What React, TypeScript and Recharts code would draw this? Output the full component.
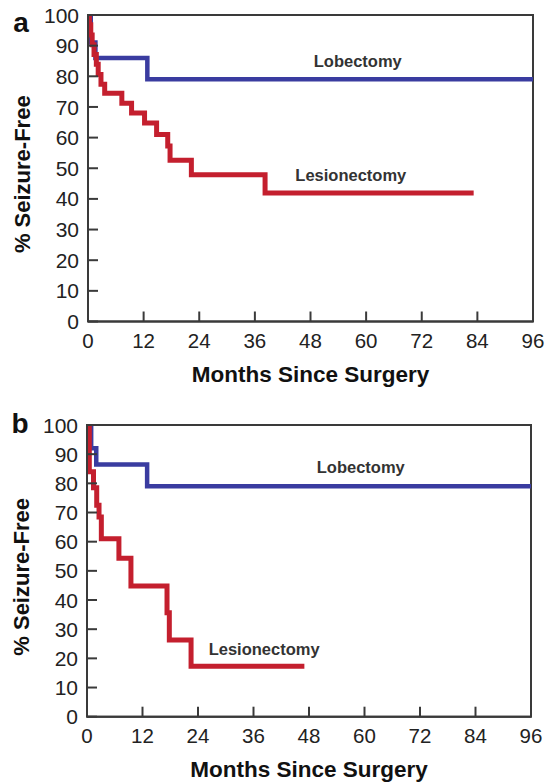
import React from 'react';
import { LineChart, Line, XAxis, YAxis, ReferenceArea, ReferenceDot } from 'recharts';

const FONT = "'Liberation Sans', Arial, Helvetica, sans-serif";
const AXIS = '#3a3a3a';
const BLUE = '#3a3ca0';
const RED = '#c41f2e';

const monthTicks = [0, 12, 24, 36, 48, 60, 72, 84, 96];
const pctTicks = [0, 10, 20, 30, 40, 50, 60, 70, 80, 90, 100];

// Panel a
const lobectomyA = [
  { month: 0, pct: 100 },
  { month: 0.6, pct: 91 },
  { month: 1.6, pct: 86 },
  { month: 12.8, pct: 79 },
  { month: 96, pct: 79 },
];
const lesionectomyA = [
  { month: 0, pct: 100 },
  { month: 0.3, pct: 96.8 },
  { month: 0.6, pct: 93.5 },
  { month: 0.9, pct: 90.3 },
  { month: 1.3, pct: 87.1 },
  { month: 1.8, pct: 83.9 },
  { month: 2.2, pct: 80.6 },
  { month: 2.8, pct: 77.4 },
  { month: 3.6, pct: 74.5 },
  { month: 7.3, pct: 71.2 },
  { month: 9.4, pct: 68 },
  { month: 12.2, pct: 64.8 },
  { month: 14.8, pct: 61 },
  { month: 17.2, pct: 57.3 },
  { month: 17.7, pct: 52.6 },
  { month: 22.3, pct: 47.9 },
  { month: 38.2, pct: 41.9 },
  { month: 83.2, pct: 41.9 },
];
const notesA = [
  { text: 'Lobectomy', month: 58.2, pct: 83.1 },
  { text: 'Lesionectomy', month: 56.7, pct: 45.9 },
];

// Panel b
const lobectomyB = [
  { month: 0, pct: 100 },
  { month: 0.9, pct: 92 },
  { month: 2, pct: 86.5 },
  { month: 13, pct: 79 },
  { month: 96, pct: 79 },
];
const lesionectomyB = [
  { month: 0, pct: 100 },
  { month: 0.5, pct: 84 },
  { month: 1.4, pct: 78.5 },
  { month: 2.1, pct: 72.5 },
  { month: 2.6, pct: 68.5 },
  { month: 3.1, pct: 61 },
  { month: 6.9, pct: 54.3 },
  { month: 9.5, pct: 44.8 },
  { month: 17.3, pct: 35.6 },
  { month: 17.8, pct: 26.3 },
  { month: 22.5, pct: 17.3 },
  { month: 47, pct: 17.3 },
];
const notesB = [
  { text: 'Lobectomy', month: 59.2, pct: 83.5 },
  { text: 'Lesionectomy', month: 38.3, pct: 21.1 },
];

const XTick = (props: any) => {
  const { x, y, payload } = props;
  return (
    <g>
      <line x1={x} y1={y} x2={x} y2={y - 10} stroke={AXIS} strokeWidth={2} />
      <text x={x} y={y + 26} textAnchor="middle" fontSize={20.5} fontFamily={FONT} fill="#222">
        {payload.value}
      </text>
    </g>
  );
};

const YTick = (props: any) => {
  const { x, y, payload } = props;
  return (
    <g>
      <line x1={x} y1={y} x2={x + 10} y2={y} stroke={AXIS} strokeWidth={2} />
      <text x={x - 9} y={y} dy="0.36em" textAnchor="end" fontSize={21} fontFamily={FONT} fill="#222">
        {payload.value}
      </text>
    </g>
  );
};

function Panel(props: any) {
  const { lob, les, notes, letter, letterY, margin } = props;
  return (
    <LineChart width={545} height={392} margin={margin}>
      <XAxis
        type="number"
        dataKey="month"
        domain={[0, 96]}
        ticks={monthTicks}
        interval={0}
        height={30}
        tickSize={0}
        tickMargin={0}
        tickLine={false}
        axisLine={{ stroke: AXIS, strokeWidth: 2 }}
        tick={<XTick />}
        allowDataOverflow
        label={{
          content: (p: any) => {
            const vb = p.viewBox;
            return (
              <text
                x={vb.x + vb.width / 2}
                y={vb.y + 60}
                textAnchor="middle"
                fontSize={22.5}
                fontWeight="bold"
                fontFamily={FONT}
                fill="#111"
              >
                Months Since Surgery
              </text>
            );
          },
        }}
      />
      <YAxis
        type="number"
        dataKey="pct"
        domain={[0, 100]}
        ticks={pctTicks}
        interval={0}
        width={60}
        tickSize={0}
        tickMargin={0}
        tickLine={false}
        axisLine={{ stroke: AXIS, strokeWidth: 2 }}
        tick={<YTick />}
        allowDataOverflow
        label={{
          content: (p: any) => {
            const vb = p.viewBox;
            const ax = vb.x + vb.width;
            const cy = vb.y + vb.height / 2 + 6;
            return (
              <g>
                <text
                  x={ax - 58}
                  y={cy}
                  transform={`rotate(-90, ${ax - 58}, ${cy})`}
                  textAnchor="middle"
                  fontSize={22}
                  fontWeight="bold"
                  fontFamily={FONT}
                  fill="#111"
                >
                  % Seizure-Free
                </text>
                <text
                  x={ax - 67}
                  y={vb.y + letterY}
                  textAnchor="middle"
                  fontSize={28}
                  fontWeight="bold"
                  fontFamily={FONT}
                  fill="#111"
                >
                  {letter}
                </text>
              </g>
            );
          },
        }}
      />
      <ReferenceArea x1={0} x2={96} y1={0} y2={100} fill="none" stroke={AXIS} strokeWidth={2} ifOverflow="visible" />
      <Line
        data={lob}
        dataKey="pct"
        type="stepAfter"
        stroke={BLUE}
        strokeWidth={4.5}
        dot={false}
        activeDot={false}
        isAnimationActive={false}
        strokeLinejoin="miter"
      />
      <Line
        data={les}
        dataKey="pct"
        type="stepAfter"
        stroke={RED}
        strokeWidth={5}
        dot={false}
        activeDot={false}
        isAnimationActive={false}
        strokeLinejoin="miter"
      />
      {notes.map((n: any) => (
        <ReferenceDot
          key={n.text}
          x={n.month}
          y={n.pct}
          r={0}
          ifOverflow="visible"
          shape={(p: any) => (
            <text
              x={p.cx}
              y={p.cy}
              textAnchor="middle"
              fontSize={16.5}
              fontWeight="bold"
              fontFamily={FONT}
              fill="#333"
            >
              {n.text}
            </text>
          )}
        />
      ))}
    </LineChart>
  );
}

export default function App() {
  return (
    <div style={{ position: 'absolute', left: 0, top: 0, width: 545, height: 784, background: '#fff' }}>
      <div style={{ position: 'absolute', left: 0, top: 0 }}>
        <Panel
          lob={lobectomyA}
          les={lesionectomyA}
          notes={notesA}
          letter="a"
          letterY={17}
          margin={{ top: 15, right: 12, bottom: 40.5, left: 28 }}
        />
      </div>
      <div style={{ position: 'absolute', left: 0, top: 392 }}>
        <Panel
          lob={lobectomyB}
          les={lesionectomyB}
          notes={notesB}
          letter="b"
          letterY={8}
          margin={{ top: 33, right: 14, bottom: 37.3, left: 27 }}
        />
      </div>
    </div>
  );
}
